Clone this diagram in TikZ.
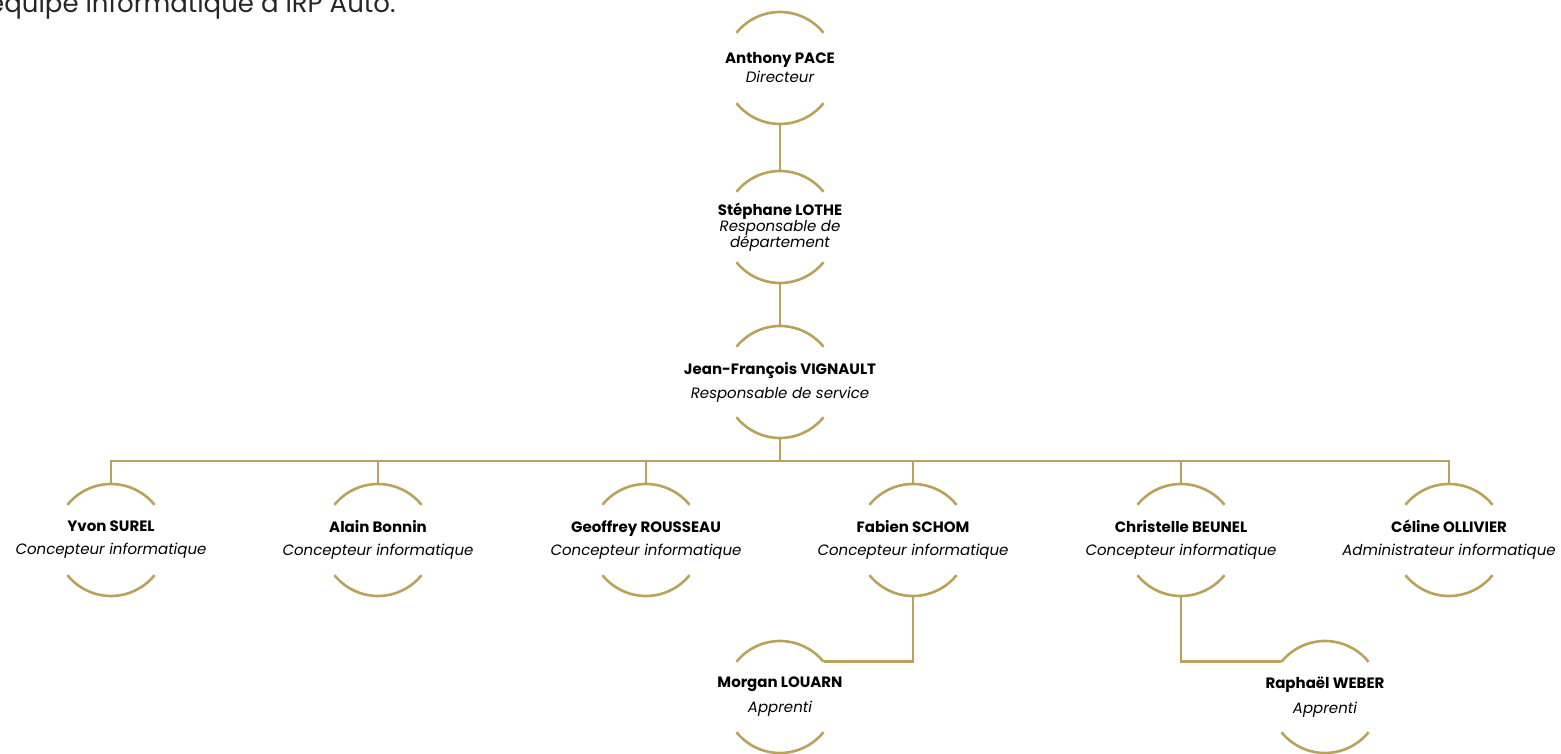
\documentclass[tikz,border=0pt]{standalone}
\usepackage{fontspec}
\setmainfont{Poppins}
\usepackage{xcolor}
\usetikzlibrary{positioning}
\definecolor{orggold}{RGB}{185,162,90}

\begin{document}
\begin{tikzpicture}[x=1pt, y=1pt,
    link/.style={draw=orggold, line width=2.6pt},
    ring/.style={circle, minimum size=112pt, inner sep=0pt, outer sep=0pt},
    who/.style={align=center, inner sep=0pt, text=black}]
    \useasboundingbox (0,0) rectangle (1561,753);
    \clip (0,0) rectangle (1561,753);

    % line of text cut by the top of the page
    \node[anchor=base east, font=\fontsize{26}{30}\selectfont, text=black!85] (intro) at (399,740) {équipe informatique à IRP Auto.};

    % people: ring, text and the two arcs
    \foreach \n/\x/\y/\sk/\nm/\rl in {
        anthony/780/685/19/Anthony PACE/Directeur,
        stephane/780/526/16/Stéphane LOTHE/Responsable de\\département,
        jf/780/371/24/Jean-François VIGNAULT/Responsable de service,
        yvon/111/213/23/Yvon SUREL/Concepteur informatique,
        alain/378/213/23/Alain Bonnin/Concepteur informatique,
        geoffrey/646/213/23/Geoffrey ROUSSEAU/Concepteur informatique,
        fabien/913/213/23/Fabien SCHOM/Concepteur informatique,
        christelle/1181/213/23/Christelle BEUNEL/Concepteur informatique,
        celine/1449/213/23/Céline OLLIVIER/Administrateur informatique,
        morgan/780/56/25/Morgan LOUARN/Apprenti,
        raphael/1325/56/25/Raphaël WEBER/Apprenti} {
        \node[ring] (\n) at (\x,\y) {};
        \node[who, font=\fontsize{15}{\sk}\selectfont\itshape] (\n-txt) at (\n.center) {\textbf{\textup{\nm}}\\\rl};
        \draw[link] (\n.141) arc[start angle=141, end angle=39, radius=56];
        \draw[link] (\n.219) arc[start angle=219, end angle=321, radius=56];
    }

    % links
    \draw[link] (anthony) -- (stephane);
    \draw[link] (stephane) -- (jf);
    \foreach \c in {yvon, alain, geoffrey, fabien, christelle, celine}
        \draw[link] (jf.south) -- ++(0,-23) -| (\c.north);
    \draw[link] (fabien.south) |- (morgan.39);
    \draw[link] (christelle.south) |- (raphael.141);
\end{tikzpicture}
\end{document}
